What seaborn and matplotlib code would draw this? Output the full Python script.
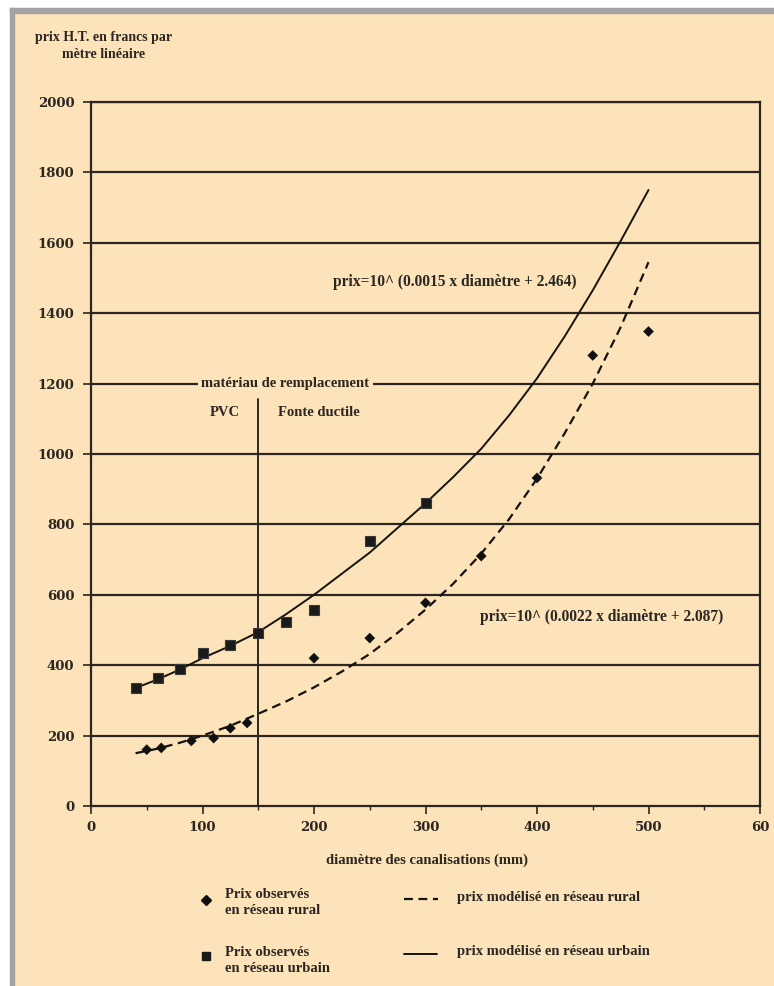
import matplotlib
matplotlib.use('Agg')
import matplotlib.pyplot as plt
from matplotlib.lines import Line2D
from matplotlib.patches import Rectangle
import seaborn as sns
import pandas as pd

# prix observés
diam_urbain = [40, 60, 80, 100, 125, 150, 175, 200, 250, 300]
prix_urbain = [335, 365, 390, 435, 457, 492, 523, 557, 753, 862]
diam_rural = [50, 63, 90, 110, 125, 140, 200, 250, 300, 350, 400, 450, 500]
prix_rural = [160, 165, 185, 193, 221, 236, 420, 477, 577, 710, 932, 1280, 1348]

# courbes modélisées
diam_modele = [40, 60, 80, 100, 125, 150, 175, 200, 225, 250, 275, 300,
               325, 350, 375, 400, 425, 450, 475, 500]
modele_urbain = [335, 360, 388, 420, 455, 494, 545, 600, 660, 720, 790, 860,
                 935, 1015, 1110, 1215, 1335, 1465, 1605, 1750]
modele_rural = [150, 163, 180, 200, 228, 262, 297, 337, 382, 432, 492, 558,
                632, 717, 815, 930, 1060, 1200, 1360, 1545]

x_ticks = [0, 100, 200, 300, 400, 500, 600]
x_labels = ['0', '100', '200', '300', '400', '500', '60']
y_ticks = list(range(0, 2001, 200))

beige = '#fce3b9'
ink = '#2b2622'

sns.set_theme(style='ticks')
plt.rcParams['font.family'] = ['Liberation Serif', 'DejaVu Serif']

W, H = 774, 986
fig = plt.figure(figsize=(W / 100, H / 100), dpi=100, facecolor=beige)

def fx(px):
    return px / W

def fy(py):
    return 1 - py / H

# bords du scan
fig.patches.append(Rectangle((0, fy(8)), 1, 8 / H, transform=fig.transFigure,
                             color='white', zorder=0))
fig.patches.append(Rectangle((0, 0), fx(10), 1, transform=fig.transFigure,
                             color='white', zorder=0))
fig.patches.append(Rectangle((fx(10), fy(13)), 1, 5 / H, transform=fig.transFigure,
                             color='#a3a3a3', zorder=0))
fig.patches.append(Rectangle((fx(10), 0), 3.5 / W, fy(8), transform=fig.transFigure,
                             color='#a3a3a3', zorder=0))

ax = fig.add_axes([fx(91), fy(806), fx(760) - fx(91), fy(102) - fy(806)])
ax.set_facecolor(beige)

for v in y_ticks[1:]:
    ax.axhline(v, color=ink, lw=1.6, zorder=1)

ax.plot([150, 150], [0, 1155], color=ink, lw=1.4, zorder=1)

obs_u = pd.DataFrame({'diametre': diam_urbain, 'prix': prix_urbain})
obs_r = pd.DataFrame({'diametre': diam_rural, 'prix': prix_rural})
mod = pd.DataFrame({'diametre': diam_modele, 'urbain': modele_urbain,
                    'rural': modele_rural})

sns.lineplot(data=mod, x='diametre', y='urbain', ax=ax, color='#151210',
             lw=1.4, zorder=3)
sns.lineplot(data=mod, x='diametre', y='rural', ax=ax, color='#151210',
             lw=1.6, zorder=3)
ax.lines[-1].set_dashes([4, 2.5])
sns.scatterplot(data=obs_u, x='diametre', y='prix', ax=ax, marker='s', s=62,
                color='#1a1a1a', edgecolor='#3a3a3a', linewidth=0.8, zorder=4)
sns.scatterplot(data=obs_r, x='diametre', y='prix', ax=ax, marker='D', s=30,
                color='#101010', edgecolor='none', zorder=4)

ax.set_xlim(0, 600)
ax.set_ylim(0, 2000)
ax.set_xticks(x_ticks)
ax.set_xticklabels(x_labels)
ax.set_xticks(range(50, 600, 100), minor=True)
ax.set_yticks(y_ticks)
ax.set_xlabel('')
ax.set_ylabel('')
for s in ax.spines.values():
    s.set_color(ink)
    s.set_linewidth(1.6)
ax.tick_params(axis='both', which='major', length=6, width=1.2, color=ink,
               labelcolor=ink, labelsize=9.5)
ax.tick_params(axis='x', which='minor', length=3, width=1, color=ink)
for t in ax.get_xticklabels() + ax.get_yticklabels():
    t.set_family(['DejaVu Serif'])
    t.set_fontweight('bold')
ax.tick_params(axis='y', pad=6)
ax.tick_params(axis='x', pad=5)

txt = dict(color=ink, fontsize=10.5, fontweight='bold')
ax.text(174, 1200, 'matériau de remplacement', ha='center', va='center',
        bbox=dict(facecolor=beige, edgecolor='none', pad=2.5), zorder=5, **txt)
ax.text(120, 1117, 'PVC', ha='center', va='center', **txt)
ax.text(204, 1117, 'Fonte ductile', ha='center', va='center', **txt)
ax.text(217, 1489, 'prix=10^ (0.0015 x diamètre + 2.464)', ha='left',
        va='center', color=ink, fontsize=11.2, fontweight='bold')
ax.text(349, 537, 'prix=10^ (0.0022 x diamètre + 2.087)', ha='left',
        va='center', color=ink, fontsize=11.2, fontweight='bold')

fig.text(fx(104), fy(46), 'prix H.T. en francs par\nmètre linéaire', ha='center',
         va='center', linespacing=1.3, color=ink, fontsize=10, fontweight='bold')
fig.text(fx(427), fy(860), 'diamètre des canalisations (mm)', ha='center',
         va='center', **txt)

# légende
fig.add_artist(Line2D([fx(206)], [fy(900)], marker='D', ms=5, color='#101010',
                      lw=0))
fig.add_artist(Line2D([fx(206)], [fy(956)], marker='s', ms=5.2, color='#1a1a1a',
                      lw=0))
fig.text(fx(225), fy(903), 'Prix observés\nen réseau rural', ha='left',
         va='center', linespacing=1.3, **txt)
fig.text(fx(225), fy(961), 'Prix observés\nen réseau urbain', ha='left',
         va='center', linespacing=1.3, **txt)
fig.add_artist(Line2D([fx(404), fx(438)], [fy(899), fy(899)], color='#151210',
                      lw=1.6, dashes=[4, 2.5]))
fig.add_artist(Line2D([fx(404), fx(437)], [fy(954), fy(954)], color='#151210',
                      lw=1.4))
fig.text(fx(457), fy(897), 'prix modélisé en réseau rural', ha='left',
         va='center', **txt)
fig.text(fx(457), fy(951), 'prix modélisé en réseau urbain', ha='left',
         va='center', **txt)

fig.savefig('out.png', dpi=100, facecolor=beige)
